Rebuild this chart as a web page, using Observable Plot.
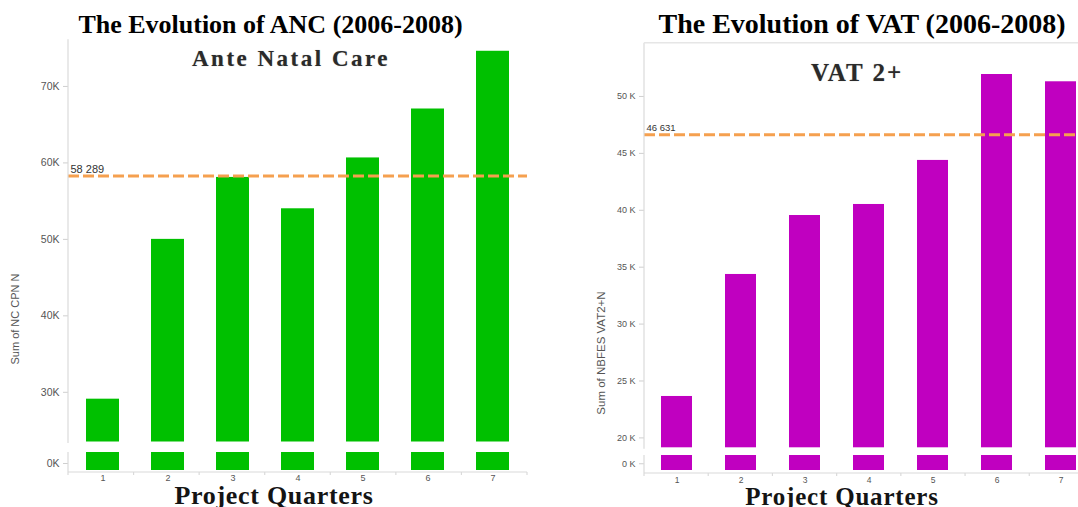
<!DOCTYPE html>
<html>
<head>
<meta charset="utf-8">
<script src="https://cdn.jsdelivr.net/npm/d3@7"></script>
<script src="https://cdn.jsdelivr.net/npm/@observablehq/plot@0.6"></script>
<style>
html, body { margin: 0; padding: 0; background: #fff; }
body { width: 1078px; height: 507px; overflow: hidden; position: relative; }
.panel { position: absolute; top: 0; }
.panel svg { max-width: none !important; }
.txt { position: absolute; white-space: nowrap; line-height: 1; }
.serif { font-family: "Liberation Serif", "Times New Roman", serif; font-weight: bold; }
.title { color: #000; transform: translateX(-50%); }
.sub { color: #2a2a2a; transform: translateX(-50%); text-shadow: 0 0 1px rgba(0,0,0,0.35); }
.xlab { color: #141414; transform: translateX(-50%); line-height: 0.8; }
.ylab { font-family: "Liberation Sans", Arial, sans-serif; color: #555; transform: translate(-50%, -50%) rotate(-90deg); }
svg [aria-label="y-axis tick"] { stroke: #cfcfcf; }
svg [aria-label="y-axis tick label"], svg [aria-label="x-axis tick label"] { fill: #555; }
</style>
</head>
<body>
<div id="left" class="panel" style="left:0px; width:540px;"></div>
<div id="right" class="panel" style="left:540px; width:560px;"></div>

<div class="txt serif title" style="left:270.5px; top:11.5px; font-size:26px;">The Evolution of ANC (2006-2008)</div>
<div class="txt serif title" style="left:862px; top:10.2px; font-size:28px;">The Evolution of VAT (2006-2008)</div>
<div class="txt serif sub" style="left:291px; top:46.5px; font-size:23px; letter-spacing:2.5px;">Ante Natal Care</div>
<div class="txt serif sub" style="left:857px; top:60px; font-size:25px; letter-spacing:2px;">VAT 2+</div>
<div class="txt serif xlab" style="left:274px; top:486px; font-size:26px; letter-spacing:0.7px;">Project Quarters</div>
<div class="txt serif xlab" style="left:842px; top:486.5px; font-size:25px; letter-spacing:0.8px;">Project Quarters</div>
<div class="txt ylab" style="left:15px; top:319px; font-size:11px;">Sum of NC CPN N</div>
<div class="txt ylab" style="left:602px; top:353px; font-size:11.5px;">Sum of NBFES VAT2+N</div>

<script>
// ---- Data ----
const quarters = ["1", "2", "3", "4", "5", "6", "7"];

const ancValues = [29100, 50000, 58100, 54000, 60650, 67050, 74600];
const ancReference = 58289;
const ancTicks = [0, 30000, 40000, 50000, 60000, 70000];

const vatValues = [23640, 34360, 39540, 40510, 44380, 51930, 51290];
const vatReference = 46631;
const vatTicks = [0, 20000, 25000, 30000, 35000, 40000, 45000, 50000];

// ---- Chart builder (broken value axis: small lower panel + upper panel) ----
function brokenBarChart(cfg) {
  const data = quarters.map((q, i) => ({q, v: cfg.values[i]}));
  const [lo0, lo1, hi0, hi1] = cfg.yDomain;
  const refFormat = (v) => d3.format(",")(v).replace(/,/g, " ");

  const axisLines = (index, scales, values, dims) => {
    const y = scales.y;
    const x0 = dims.marginLeft, x1 = dims.width - dims.marginRight;
    const base = dims.height - dims.marginBottom;
    const g = d3.create("svg:g").attr("stroke", "#dadada").attr("fill", "none").attr("stroke-width", 1.2);
    g.append("line").attr("x1", x0).attr("x2", x0).attr("y1", y(hi1)).attr("y2", y(hi0) + 1.5);
    g.append("line").attr("x1", x0).attr("x2", x0).attr("y1", y(lo1)).attr("y2", base);
    g.append("line").attr("x1", x0).attr("x2", x1).attr("y1", base).attr("y2", base);
    if (cfg.topLine) {
      g.append("line").attr("x1", x0).attr("x2", dims.width).attr("y1", y(hi1)).attr("y2", y(hi1)).attr("stroke", "#e6e6e6").attr("stroke-width", 1.6);
    }
    const n = quarters.length;
    for (let k = 0; k <= n; k++) {
      const xx = x0 + k * (x1 - x0) / n;
      g.append("line").attr("x1", xx).attr("x2", xx).attr("y1", base).attr("y2", base + 3);
    }
    return g.node();
  };

  return Plot.plot({
    width: cfg.width,
    height: 507,
    marginLeft: cfg.marginLeft,
    marginRight: cfg.marginRight,
    marginTop: 40,
    marginBottom: cfg.marginBottom,
    style: {fontFamily: "Liberation Sans, Arial, sans-serif", background: "transparent", overflow: "visible", maxWidth: "none"},
    x: {type: "band", domain: quarters, paddingInner: cfg.paddingInner, paddingOuter: 0.25, label: null},
    y: {type: "linear", domain: cfg.yDomain, range: cfg.yRange, label: null},
    marks: [
      Plot.barY(data, {x: "q", y1: lo0, y2: lo1, fill: cfg.color}),
      Plot.barY(data, {x: "q", y1: hi0, y2: "v", fill: cfg.color}),
      Plot.ruleY([cfg.reference], {stroke: "#f5a04f", strokeWidth: 3, strokeDasharray: "11,4"}),
      Plot.text([cfg.reference], {y: (d) => d, frameAnchor: "left", text: refFormat, textAnchor: "start",
        dx: 2, dy: -7, fontSize: cfg.refFontSize, fill: "#333", style: {letterSpacing: "0.8px"}}),
      Plot.axisY({ticks: cfg.ticks, tickFormat: cfg.tickFormat, tickSize: 5, tickPadding: 4, fontSize: cfg.tickFontSize, label: null}),
      Plot.axisX({tickSize: 0, tickPadding: cfg.xTickPadding, fontSize: cfg.xFontSize, label: null}),
      axisLines
    ]
  });
}

document.getElementById("left").append(brokenBarChart({
  values: ancValues,
  reference: ancReference,
  ticks: ancTicks,
  tickFormat: (d) => d / 1000 + "K",
  color: "#00c000",
  width: 540,
  marginLeft: 68,
  marginRight: 13,
  marginBottom: 35,
  paddingInner: 0.5,
  yDomain: [-3500, 5500, 23500, 76100],
  yRange: [470, 452, 441.5, 39.3],
  topLine: false,
  tickFontSize: 10.5,
  refFontSize: 11,
  xFontSize: 9,
  xTickPadding: 2.5
}));

document.getElementById("right").append(brokenBarChart({
  values: vatValues,
  reference: vatReference,
  ticks: vatTicks,
  tickFormat: (d) => d / 1000 + " K",
  color: "#c000c0",
  width: 560,
  marginLeft: 104,
  marginRight: 6.5,
  marginBottom: 34,
  paddingInner: 0.52,
  yDomain: [-4500, 5500, 19130, 54680],
  yRange: [470, 455, 447.3, 42.7],
  topLine: true,
  tickFontSize: 9,
  refFontSize: 9.5,
  xFontSize: 8.5,
  xTickPadding: 3.5
}));
</script>
</body>
</html>
